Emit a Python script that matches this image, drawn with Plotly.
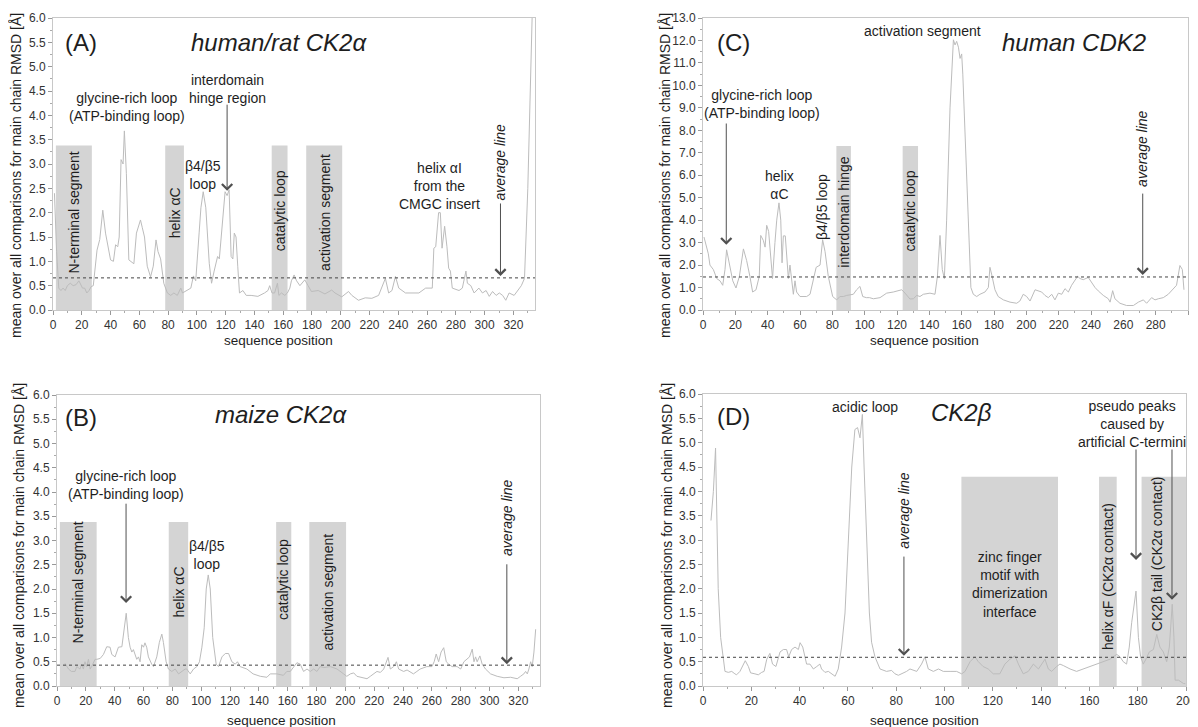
import plotly.graph_objects as go

# ---------------- data ----------------
# Panel A: human/rat CK2alpha
a_pos = [1, 2.5, 4, 5.5, 7, 8.5, 10, 12, 14, 16, 18, 19, 20.5, 22, 23.5, 25, 26.5, 28,
         30.6, 32.5, 34.6, 36.5, 38, 40, 42, 43.5, 45, 46, 47.3, 48.7, 49.6, 51, 52.7, 55, 56.2, 58,
         60.8, 62, 63.6, 65.5, 67.8, 69.7, 71.6, 73, 74.8, 77, 79.5, 81.8, 84, 86.4, 88.8, 90, 93.5,
         95.8, 97.6, 99.2, 101.6, 102.8, 104.4, 106.2, 108.6, 110.2, 112, 114.4, 115.6, 118, 119.6,
         121, 122.4, 123.8, 125, 126, 127.2, 128.4, 129.6, 132, 134.3, 137.7, 142.4, 147, 149.4,
         150.6, 152.2, 154, 156, 157, 158.8, 161.1, 162.9, 164.6, 165.7, 167.6, 169.3, 171.6, 175,
         177.3, 179.6, 184.3, 189, 193.7, 196, 200.7, 205.4, 207.7, 212.3, 217, 221.6, 226.3, 231,
         233.3, 235.6, 238, 240.3, 245, 249.6, 254.3, 259, 263.6, 264.7, 266, 268, 269.2, 270.4,
         272.2, 273.8, 275, 276.2, 277.5, 282.2, 284.5, 287, 288, 290.4, 292.7, 296, 298.5, 301,
         303.2, 305.5, 308, 310.2, 312.5, 314.7, 317, 320.5, 323, 325.5, 327.7, 330, 333]
a_rmsd = [2.4, 1.2, 0.45, 0.4, 0.45, 0.4, 0.5, 0.55, 0.5, 0.52, 0.6, 0.55, 0.45, 0.45, 0.35, 0.4, 0.48, 0.5,
          1.23, 1.45, 2.05, 1.58, 1.35, 1.03, 1.0, 1.34, 1.3, 1.5, 3.09, 3.0, 3.68, 2.8, 1.03, 0.98, 0.95, 1.58,
          1.85, 1.7, 1.5, 0.9, 0.68, 0.9, 1.44, 1.2, 1.05, 0.55, 0.35, 0.3, 0.35, 0.3, 0.45, 0.35, 0.4,
          0.45, 0.7, 0.6, 1.6, 2.1, 2.43, 2.1, 0.96, 0.55, 0.8, 1.1, 1.05, 1.85, 2.43,
          2.35, 2.47, 1.1, 1.05, 1.58, 1.5, 0.9, 0.35, 0.4, 0.3, 0.3, 0.28, 0.35, 0.4,
          0.5, 0.35, 0.35, 0.55, 0.3, 0.35, 0.3, 0.35, 0.45, 0.6, 0.72, 0.6, 0.5, 0.62,
          0.5, 0.38, 0.4, 0.33, 0.41, 0.35, 0.27, 0.38, 0.3, 0.2, 0.25, 0.24, 0.3, 0.65,
          0.35, 0.4, 0.69, 0.45, 0.35, 0.35, 0.35, 0.45, 0.45, 1.27, 1.3, 2.0, 2.0, 1.27,
          1.72, 1.3, 0.86, 0.8, 0.45, 0.4, 0.45, 0.8, 0.55, 0.5, 0.35, 0.45, 0.35, 0.4,
          0.28, 0.38, 0.3, 0.35, 0.3, 0.2, 0.35, 0.3, 0.4, 0.5, 0.65, 2.5, 6.0]

# Panel B: maize CK2alpha
b_pos = [5.5, 8, 10, 12.5, 13.7, 16, 17, 18.3, 19.4, 20.6, 21.8, 23, 24, 25, 26.4, 27.6, 30, 32.2, 34.5,
         36.8, 38, 40.3, 42.6, 45, 46.5, 48, 49.5, 50.7, 51.9, 53, 55.3, 56.5, 57.6, 58.8, 60, 61, 62.2,
         63.4, 65.7, 66.9, 69.2, 71, 72.7, 73.8, 75.7, 77.3, 79.6, 82, 84.3, 86.6, 88.9, 90, 92.4, 94.7,
         97, 98.8, 100.5, 102.1, 103.5, 104.9, 106.3, 108, 110.4, 112, 114.4, 116.7, 119, 121.3, 123.6,
         125.2, 127, 131.7, 136, 141, 145.6, 147.9, 152.5, 157, 159.4, 161.8, 164.1, 166.4, 168.7, 171,
         173.4, 175.7, 178, 180.3, 182.6, 185, 189.6, 194.2, 198.8, 201, 203.5, 205.8, 208, 210.4, 215,
         217.3, 221.9, 224.3, 226.6, 229.6, 231.2, 233.5, 235.4, 237, 240.4, 242.8, 247.2, 249.6, 251.9,
         256.5, 260, 261.6, 263, 264.7, 266.4, 268.2, 270, 271.7, 274, 277.5, 280, 282.2, 284.5, 286.1,
         288, 289.2, 290.3, 291.4, 293.3, 294.9, 297.2, 300.7, 305.3, 310, 314.6, 319.2, 321.5, 323.8,
         325, 326.2, 327.3, 328.5, 329.6, 330.8, 332]
b_rmsd = [0.47, 0.35, 0.3, 0.3, 0.4, 0.35, 0.45, 0.35, 0.5, 0.4, 0.55, 0.35, 0.4, 0.45, 0.55, 0.55, 0.57, 0.65, 0.81,
          0.8, 0.65, 0.6, 0.8, 0.81, 1.2, 1.5, 1.0, 0.8, 0.7, 0.75, 0.55, 0.6, 0.5, 0.85, 0.8, 0.89, 0.8,
          0.6, 0.45, 0.4, 0.6, 0.9, 1.07, 0.9, 0.5, 0.35, 0.3, 0.35, 0.25, 0.3, 0.35, 0.35, 0.25, 0.35,
          0.4, 0.5, 0.8, 1.2, 2.0, 2.29, 2.0, 1.0, 0.45, 0.4, 0.6, 0.67, 0.67, 0.5, 0.45,
          0.5, 0.4, 0.35, 0.25, 0.2, 0.18, 0.25, 0.25, 0.22, 0.3, 0.3, 0.38, 0.48, 0.45, 0.3,
          0.35, 0.3, 0.35, 0.3, 0.4, 0.38, 0.4, 0.35, 0.25, 0.2, 0.25, 0.27, 0.2, 0.18, 0.15,
          0.2, 0.3, 0.28, 0.35, 0.59, 0.35, 0.4, 0.5, 0.35, 0.3, 0.33, 0.25, 0.3, 0.35,
          0.4, 0.4, 0.5, 0.66, 0.5, 0.7, 0.79, 0.5, 0.45, 0.4, 0.4, 0.35, 0.5, 0.55, 0.6,
          0.76, 0.5, 0.6, 0.5, 0.62, 0.45, 0.35, 0.25, 0.2, 0.17, 0.18, 0.15, 0.2, 0.25,
          0.3, 0.25, 0.35, 0.5, 0.4, 0.7, 1.17]

# Panel C: human CDK2
c_pos = [0.6, 1.9, 3.3, 4.3, 6.4, 8.5, 10.5, 12.2, 13.6, 14.6, 16.7, 18.4, 20.4, 22.5, 25, 27, 29, 30.7,
         32.8, 34.8, 35.7, 37.3, 38.4, 39.4, 40.6, 41.9, 43, 44.5, 45.6, 47, 48.1, 48.9, 49.7, 50.9, 51.8,
         52.8, 53.8, 54.8, 55.9, 56.9, 57.9, 60, 64.1, 66.2, 68.2, 70, 72.4, 74, 75.5, 77.5, 80.2, 82.7,
         84.7, 86.8, 88.9, 93, 95, 97.1, 98.8, 101, 103, 105.4, 109.5, 113.6, 117.7, 120.8, 122.9, 125,
         128, 130.1, 132.2, 134.2, 136.3, 140.4, 143.5, 145, 146.6, 148, 149.3, 150.7, 152.8, 154.9,
         155.9, 156.9, 158, 159, 160, 160.7, 162.1, 164.2, 165.7, 167.2, 169.3, 171.3, 174.4, 176.5,
         177.5, 178.5, 180.6, 182.6, 185.8, 189.9, 194, 196, 198.1, 200.2, 202.3, 205.4, 207.4, 209.5,
         211.5, 213.6, 215.7, 217.7, 219.8, 221.9, 223.9, 226, 228, 230.1, 231.7, 233.2, 235.2, 238.3,
         240.4, 242.5, 244.5, 247.6, 250.7, 251.8, 253.4, 254.8, 257.9, 262, 266.2, 269.3, 272.4, 274.4,
         277.5, 279.6, 281.6, 284.7, 287.8, 290.9, 292.9, 295, 296.5, 297.5]
c_rmsd = [3.25, 2.9, 2.5, 2.0, 1.8, 1.4, 1.3, 1.1, 1.8, 2.68, 2.0, 1.3, 0.98, 1.5, 2.72, 2.2, 1.5, 0.8,
          0.9, 1.5, 3.32, 3.1, 2.8, 3.77, 3.5, 2.5, 1.4, 3.0, 4.0, 4.77, 4.0, 2.1, 3.3, 3.3, 2.5,
          1.4, 2.0, 1.3, 0.7, 1.3, 0.8, 0.6, 0.6, 0.7, 1.4, 1.9, 2.0, 3.13, 2.6, 1.5, 0.6, 0.45,
          0.6, 0.6, 0.65, 0.7, 0.9, 1.05, 0.6, 0.55, 0.55, 0.5, 0.55, 0.75, 0.8, 0.85, 0.9, 0.75,
          0.49, 0.5, 0.65, 0.6, 0.7, 0.75, 0.7, 1.5, 3.32, 1.8, 1.4, 4.0, 9.0, 12.03,
          11.8, 11.96, 11.7, 11.2, 11.4, 10.5, 8.0, 4.0, 1.0, 0.7, 0.6, 0.7, 0.8, 1.0,
          1.9, 1.6, 0.9, 0.6, 0.45, 0.35, 0.3, 0.4, 0.7, 0.6, 0.4, 0.9, 0.85, 0.8,
          0.65, 0.55, 0.7, 0.45, 0.75, 0.7, 0.95, 0.8, 1.1, 1.3, 1.5, 1.4, 1.35, 1.45,
          1.2, 1.0, 0.85, 0.65, 0.5, 0.35, 0.86, 0.5, 0.3, 0.2, 0.2, 0.35, 0.45, 0.3,
          0.55, 0.45, 0.5, 0.55, 0.7, 0.95, 1.1, 1.98, 1.8, 0.9]

# Panel D: CK2beta
d_pos = [3.3, 4.3, 5.2, 5.6, 6.3, 7.3, 8.4, 9.1, 10.5, 11.9, 13.2, 13.9, 15.3, 16.7, 17.5, 18.8, 19.7,
         21.5, 22.9, 24.3, 25.3, 26.4, 27.7, 28.8, 30.2, 31.9, 33.3, 34.6, 35.5, 36.7, 38.1, 39.5, 40.2,
         41.3, 42.9, 44.3, 45.7, 47.1, 48.4, 49.1, 50.5, 51.9, 53.3, 54.7, 56, 57.4, 58.8, 60.2, 61.6,
         62.9, 64, 65, 66, 66.7, 67.8, 68.9, 69.8, 71.2, 73.3, 76, 78.1, 79.5, 80.9, 82.3, 84.3, 85.7,
         88.5, 90.5, 91.9, 93.3, 95.4, 97.5, 99.5, 102.3, 105, 107.1, 108.5, 110.6, 112.6, 114, 116,
         118.1, 120.2, 122.9, 125, 127.1, 129.2, 130.6, 132.6, 134.7, 136.8, 138.9, 140.2, 141.6, 143,
         144.4, 146.4, 147.8, 149.2, 152, 154.7, 157.5, 160.2, 163, 165.8, 168.5, 171.3, 172.7, 174,
         175.4, 176.5, 177.5, 179.3, 180.3, 181.2, 182.3, 183.4, 184.8, 186.5, 187.9, 189.2, 190.6, 192,
         193.1, 194.3, 195, 195.5, 196.9, 199, 199.7]
d_rmsd = [3.4, 4.0, 4.89, 3.8, 2.0, 1.0, 0.5, 0.3, 0.28, 0.3, 0.25, 0.23, 0.3, 0.45, 0.52, 0.4, 0.27,
          0.25, 0.23, 0.28, 0.3, 0.55, 0.67, 0.45, 0.4, 0.7, 0.75, 0.75, 0.6, 0.75, 0.8, 0.75, 0.89,
          0.8, 0.45, 0.45, 0.35, 0.4, 0.45, 0.35, 0.28, 0.3, 0.25, 0.2, 0.35, 0.8, 1.5, 3.0, 4.5,
          5.27, 5.31, 5.1, 5.58, 4.5, 3.0, 1.5, 0.9, 0.6, 0.35, 0.3, 0.32, 0.25, 0.22, 0.25, 0.3, 0.35,
          0.3, 0.45, 0.6, 0.35, 0.3, 0.35, 0.3, 0.3, 0.3, 0.25, 0.3, 0.5, 0.6, 0.5, 0.4,
          0.35, 0.25, 0.25, 0.45, 0.55, 0.62, 0.45, 0.25, 0.3, 0.45, 0.35, 0.45, 0.55, 0.35,
          0.3, 0.4, 0.45, 0.42, 0.35, 0.3, 0.35, 0.4, 0.45, 0.5, 0.55, 0.65, 0.6, 0.5,
          0.45, 0.8, 1.3, 1.95, 1.0, 0.6, 0.45, 0.55, 0.7, 0.75, 1.06, 0.8, 0.7, 0.5,
          0.8, 1.68, 1.0, 0.12, 0.12, 0.05, 0.05]

# average lines
a_avg, b_avg, c_avg, d_avg = 0.66, 0.43, 1.47, 0.59

# shaded regions (start, end) and their labels
a_regions = [(2, 27), (78, 91), (152, 163), (176, 201)]
a_region_labels = ["N-terminal segment", "helix αC", "catalytic loop", "activation segment"]
b_regions = [(2, 27.5), (77.5, 91), (152, 162.5), (175, 200.5)]
b_region_labels = ["N-terminal segment", "helix αC", "catalytic loop", "activation segment"]
c_regions = [(82.5, 91.5), (123.5, 133)]
c_region_labels = ["interdomain hinge", "catalytic loop"]
d_regions = [(107, 147), (164, 171.3), (181.6, 200)]
d_region_labels = ["", "helix αF (CK2α contact)", "CK2β tail (CK2α contact)"]

# ---------------- figure ----------------
# the page body has an 8 px margin, so the figure is drawn 8 px smaller and offset
OFF = 8
W, H = 1198 - OFF, 727 - OFF
FONT = "Liberation Sans, Arial, sans-serif"
LINE_C = "#bcbcbc"
BOX_C = "#d4d4d4"
FRAME_C = "#c8c8c8"
TXT_C = "#1e1e1e"
ARROW_C = "#505050"


def px_x(p):
    return (p - OFF) / W


def px_y(p):
    return 1 - (p - OFF) / H


panels = {
    "A": dict(xa="x", ya="y", xdom=[px_x(53), px_x(535)], ydom=[px_y(310), px_y(18)],
              xr=[0, 335], yr=[0, 6], dty=0.5, pos=a_pos, val=a_rmsd, avg=a_avg,
              regions=a_regions, top=3.38),
    "B": dict(xa="x2", ya="y2", xdom=[px_x(57), px_x(540)], ydom=[px_y(686), px_y(395)],
              xr=[0, 335], yr=[0, 6], dty=0.5, pos=b_pos, val=b_rmsd, avg=b_avg,
              regions=b_regions, top=3.38),
    "C": dict(xa="x3", ya="y3", xdom=[px_x(703), px_x(1188)], ydom=[px_y(310), px_y(18)],
              xr=[0, 300], yr=[0, 13], dty=1.0, pos=c_pos, val=c_rmsd, avg=c_avg,
              regions=c_regions, top=7.3),
    "D": dict(xa="x4", ya="y4", xdom=[px_x(703), px_x(1186)], ydom=[px_y(686), px_y(394)],
              xr=[0, 200], yr=[0, 6], dty=0.5, pos=d_pos, val=d_rmsd, avg=d_avg,
              regions=d_regions, top=4.3),
}

fig = go.Figure()
layout_axes = {}
shapes = []
annotations = []

for key, p in panels.items():
    fig.add_trace(go.Scatter(x=p["pos"], y=p["val"], mode="lines", xaxis=p["xa"], yaxis=p["ya"],
                             line=dict(color=LINE_C, width=1), showlegend=False, hoverinfo="skip"))
    xname = "xaxis" + p["xa"][1:]
    yname = "yaxis" + p["ya"][1:]
    layout_axes[xname] = dict(
        domain=p["xdom"], range=p["xr"], anchor=p["ya"], showline=True, mirror=True,
        linecolor=FRAME_C, linewidth=1, ticks="outside", ticklen=4, tickcolor="#999",
        tick0=0, dtick=20, minor=dict(dtick=10, ticks="outside", ticklen=2, tickcolor="#aaa"),
        showgrid=False, zeroline=False, automargin=False,
        tickfont=dict(family=FONT, size=12, color="#333"))
    layout_axes[yname] = dict(
        domain=p["ydom"], range=p["yr"], anchor=p["xa"], showline=True, mirror=True,
        linecolor=FRAME_C, linewidth=1, ticks="outside", ticklen=4, tickcolor="#999",
        tick0=0, dtick=p["dty"], tickformat=".1f",
        minor=dict(dtick=p["dty"] / 2, ticks="outside", ticklen=2, tickcolor="#aaa"),
        showgrid=False, zeroline=False, automargin=False,
        tickfont=dict(family=FONT, size=12, color="#333"))
    for (s, e) in p["regions"]:
        shapes.append(dict(type="rect", xref=p["xa"], yref=p["ya"], x0=s, x1=e, y0=0, y1=p["top"],
                           fillcolor=BOX_C, line=dict(width=0), layer="below"))
    shapes.append(dict(type="line", xref=p["xa"] + " domain", yref=p["ya"], x0=0, x1=1,
                       y0=p["avg"], y1=p["avg"], line=dict(color="#444", width=1, dash="dot")))


def text(panel, x, y, s, size=14, italic=False, angle=0, xanchor="center"):
    p = panels[panel]
    if italic:
        s = "<i>" + s + "</i>"
    annotations.append(dict(xref=p["xa"], yref=p["ya"], x=x, y=y, text=s, showarrow=False,
                            textangle=angle, xanchor=xanchor, yanchor="middle",
                            font=dict(family=FONT, size=size, color=TXT_C)))


def arrow(panel, x, y_tail, y_tip):
    p = panels[panel]
    annotations.append(dict(xref=p["xa"], yref=p["ya"], axref=p["xa"], ayref=p["ya"],
                            x=x, y=y_tip, ax=x, ay=y_tail, text="", showarrow=True,
                            arrowhead=4, arrowsize=2, arrowwidth=1, arrowcolor=ARROW_C,
                            standoff=0, startstandoff=0))


# region labels (vertical, centred in the boxes)
a_label_y = [2.0, 2.0, 2.04, 2.0]
for (s, e), lab, yy in zip(a_regions, a_region_labels, a_label_y):
    text("A", (s + e) / 2, yy, lab, angle=-90)
b_label_y = [2.14, 1.94, 2.2, 1.94]
for (s, e), lab, yy in zip(b_regions, b_region_labels, b_label_y):
    text("B", (s + e) / 2, yy, lab, angle=-90)
c_label_y = [4.36, 4.4]
for (s, e), lab, yy in zip(c_regions, c_region_labels, c_label_y):
    text("C", (s + e) / 2, yy, lab, angle=-90)
text("D", 167.7, 2.24, d_region_labels[1], angle=-90)
text("D", 188, 2.71, d_region_labels[2], angle=-90)

# Panel A
text("A", 7, 5.49, "(A)", size=24, xanchor="left")
text("A", 157, 5.5, "human/rat CK2α", size=24, italic=True)
text("A", 51.6, 4.18, "glycine-rich loop<br>(ATP-binding loop)")
text("A", 121.5, 4.54, "interdomain<br>hinge region")
arrow("A", 121, 4.25, 2.45)
text("A", 104, 2.78, "β4/β5<br>loop")
text("A", 268.5, 2.55, "helix αI<br>from the<br>CMGC insert")
text("A", 311, 3.04, "average line", italic=True, angle=-90)
arrow("A", 311, 2.22, 0.7)

# Panel B
text("B", 4, 5.53, "(B)", size=24, xanchor="left")
text("B", 155.5, 5.59, "maize CK2α", size=24, italic=True)
text("B", 48, 4.15, "glycine-rich loop<br>(ATP-binding loop)")
arrow("B", 47.9, 3.79, 1.71)
text("B", 104, 2.70, "β4/β5<br>loop")
text("B", 312, 3.46, "average line", italic=True, angle=-90)
arrow("B", 312, 2.54, 0.45)

# Panel C
text("C", 7.5, 11.89, "(C)", size=24, xanchor="left")
text("C", 229.5, 11.93, "human CDK2", size=24, italic=True)
text("C", 135.5, 12.42, "activation segment")
text("C", 36.5, 9.15, "glycine-rich loop<br>(ATP-binding loop)")
arrow("C", 14.4, 8.37, 2.9)
text("C", 47.6, 5.57, "helix<br>αC")
text("C", 73.6, 4.58, "β4/β5 loop", angle=-90)
text("C", 271.5, 7.17, "average line", italic=True, angle=-90)
arrow("C", 272, 5.25, 1.56)

# Panel D
text("D", 5, 5.53, "(D)", size=24, xanchor="left")
text("D", 107, 5.61, "CK2β", size=24, italic=True)
text("D", 67, 5.74, "acidic loop")
text("D", 83.2, 3.6, "average line", italic=True, angle=-90)
arrow("D", 83.2, 2.69, 0.62)
text("D", 177.6, 5.38, "pseudo peaks<br>caused by<br>artificial C-termini")
arrow("D", 179.3, 4.89, 2.59)
arrow("D", 194.2, 4.89, 1.77)
text("D", 127, 2.08, "zinc finger<br>motif with<br>dimerization<br>interface")

# axis titles (paper coordinates)
YT = "mean over all comparisons for main chain RMSD [Å]"
for xp, yp in [(16, 176), (19, 546), (665, 176), (667, 546)]:
    annotations.append(dict(xref="paper", yref="paper", x=px_x(xp), y=px_y(yp), text=YT,
                            showarrow=False, textangle=-90, xanchor="center", yanchor="middle",
                            font=dict(family=FONT, size=14, color=TXT_C)))
for xp, yp in [(278, 340), (281, 720), (924, 340), (924, 720)]:
    annotations.append(dict(xref="paper", yref="paper", x=px_x(xp), y=px_y(yp),
                            text="sequence position", showarrow=False,
                            xanchor="center", yanchor="middle",
                            font=dict(family=FONT, size=13.5, color=TXT_C)))

fig.update_layout(width=W, height=H, margin=dict(l=0, r=0, t=0, b=0),
                  paper_bgcolor="white", plot_bgcolor="white", showlegend=False,
                  font=dict(family=FONT), shapes=shapes, annotations=annotations, **layout_axes)

fig.write_html("out.html")
